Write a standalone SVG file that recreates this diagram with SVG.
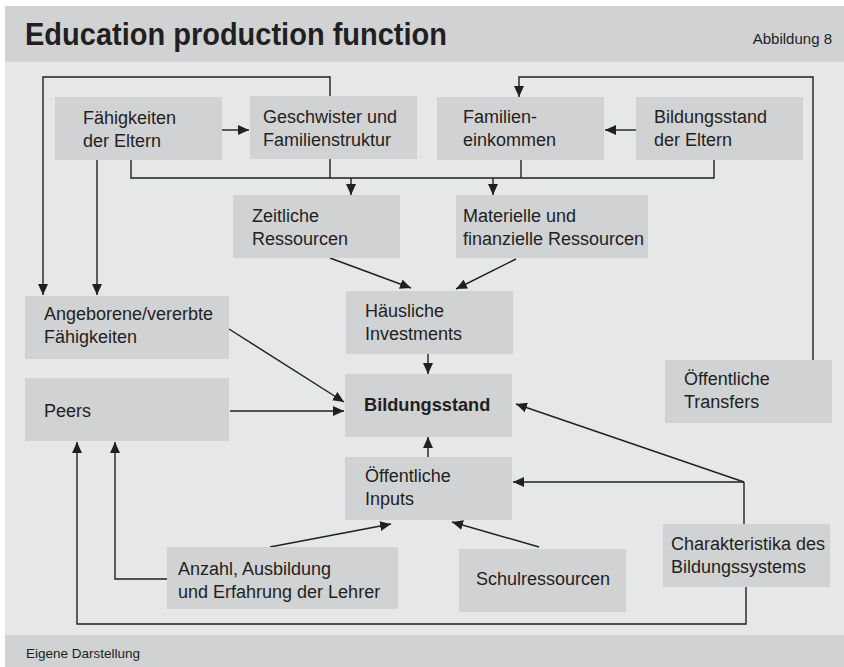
<svg xmlns="http://www.w3.org/2000/svg" width="844" height="667" viewBox="0 0 844 667">
<style>
text{font-family:"Liberation Sans",Arial,sans-serif;fill:#231f20}
.n{font-size:18px}
.b{font-size:18.2px;font-weight:bold}
.box{fill:#d1d2d4}
.c{fill:none;stroke:#231f20;stroke-width:1.4}
</style>
<defs>
<marker id="ah" markerUnits="userSpaceOnUse" markerWidth="11" markerHeight="10" refX="11" refY="5" orient="auto">
<path d="M0,0 L11,5 L0,10 z" fill="#231f20"/>
</marker>
</defs>
<rect x="0" y="0" width="844" height="667" fill="#ffffff"/>
<rect x="5" y="6" width="839" height="56" fill="#d1d2d4"/>
<rect x="5" y="62" width="839" height="573" fill="#e6e7e8"/>
<rect x="5" y="635" width="839" height="32" fill="#d1d2d4"/>
<text x="25" y="45" font-size="31" font-weight="bold" textLength="422" lengthAdjust="spacingAndGlyphs">Education production function</text>
<text x="832" y="44" font-size="15" text-anchor="end">Abbildung 8</text>
<text x="26" y="658" font-size="13.5">Eigene Darstellung</text>

<g id="connectors">
<path class="c" d="M330,96 V77 H43 V295" marker-end="url(#ah)"/>
<path class="c" d="M222,130 H249" marker-end="url(#ah)"/>
<path class="c" d="M97,160 V295" marker-end="url(#ah)"/>
<path class="c" d="M131,160 V178 H714 V160"/>
<path class="c" d="M330,159 V178"/>
<path class="c" d="M521,160 V178"/>
<path class="c" d="M351,178 V195" marker-end="url(#ah)"/>
<path class="c" d="M493,178 V195" marker-end="url(#ah)"/>
<path class="c" d="M636,130 H605" marker-end="url(#ah)"/>
<path class="c" d="M813,360 V77 H519 V97" marker-end="url(#ah)"/>
<path class="c" d="M330,258 L411,288" marker-end="url(#ah)"/>
<path class="c" d="M516,259 L456,289" marker-end="url(#ah)"/>
<path class="c" d="M428,354 V374" marker-end="url(#ah)"/>
<path class="c" d="M229,329 L344,402" marker-end="url(#ah)"/>
<path class="c" d="M230,411 H344" marker-end="url(#ah)"/>
<path class="c" d="M428,457 V437" marker-end="url(#ah)"/>
<path class="c" d="M744,524 V482"/>
<path class="c" d="M744,482 L516,404" marker-end="url(#ah)"/>
<path class="c" d="M744,482 H513" marker-end="url(#ah)"/>
<path class="c" d="M746,587 V624 H77 V442" marker-end="url(#ah)"/>
<path class="c" d="M167,579 H115 V442" marker-end="url(#ah)"/>
<path class="c" d="M270,547 L391,524" marker-end="url(#ah)"/>
<path class="c" d="M539,547 L452,522" marker-end="url(#ah)"/>
</g>

<g id="faehigkeiten-eltern"><rect class="box" x="55" y="97" width="167" height="63"/><text class="n" x="83" y="124">Fähigkeiten</text><text class="n" x="83" y="147">der Eltern</text></g>
<g id="geschwister"><rect class="box" x="250" y="96" width="167" height="63"/><text class="n" x="263" y="123">Geschwister und</text><text class="n" x="263" y="146">Familienstruktur</text></g>
<g id="familieneinkommen"><rect class="box" x="437" y="97" width="167" height="63"/><text class="n" x="463" y="123">Familien-</text><text class="n" x="463" y="146">einkommen</text></g>
<g id="bildungsstand-eltern"><rect class="box" x="636" y="97" width="167" height="63"/><text class="n" x="654" y="123">Bildungsstand</text><text class="n" x="654" y="146">der Eltern</text></g>
<g id="zeitliche"><rect class="box" x="233" y="195" width="167" height="63"/><text class="n" x="252" y="222">Zeitliche</text><text class="n" x="252" y="245">Ressourcen</text></g>
<g id="materielle"><rect class="box" x="456" y="195" width="192" height="63"/><text class="n" x="463" y="222">Materielle und</text><text class="n" x="463" y="245">finanzielle Ressourcen</text></g>
<g id="angeborene"><rect class="box" x="25" y="296" width="204" height="63"/><text class="n" x="44" y="320">Angeborene/vererbte</text><text class="n" x="44" y="343">Fähigkeiten</text></g>
<g id="haeusliche"><rect class="box" x="346" y="291" width="167" height="63"/><text class="n" x="365" y="317">Häusliche</text><text class="n" x="365" y="340">Investments</text></g>
<g id="bildungsstand"><rect class="box" x="345" y="374" width="167" height="63"/><text class="b" x="364" y="411">Bildungsstand</text></g>
<g id="peers"><rect class="box" x="25" y="378" width="204" height="63"/><text class="n" x="44" y="417">Peers</text></g>
<g id="transfers"><rect class="box" x="665" y="360" width="167" height="63"/><text class="n" x="684" y="385">Öffentliche</text><text class="n" x="684" y="408">Transfers</text></g>
<g id="inputs"><rect class="box" x="345" y="457" width="167" height="63"/><text class="n" x="365" y="482">Öffentliche</text><text class="n" x="365" y="505">Inputs</text></g>
<g id="lehrer"><rect class="box" x="167" y="547" width="231" height="62"/><text class="n" x="178" y="575">Anzahl, Ausbildung</text><text class="n" x="178" y="598">und Erfahrung der Lehrer</text></g>
<g id="schulressourcen"><rect class="box" x="459" y="549" width="167" height="63"/><text class="n" x="476" y="585">Schulressourcen</text></g>
<g id="charakteristika"><rect class="box" x="663" y="524" width="167" height="63"/><text class="n" x="671" y="550">Charakteristika des</text><text class="n" x="671" y="573">Bildungssystems</text></g>
</svg>
